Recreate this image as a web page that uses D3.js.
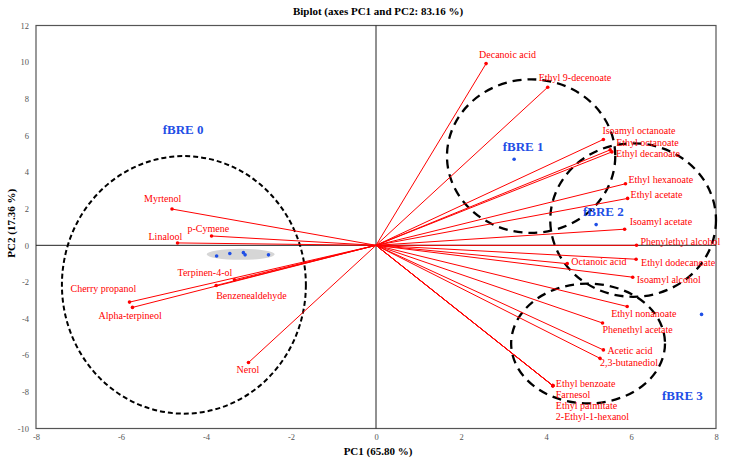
<!DOCTYPE html>
<html><head><meta charset="utf-8">
<script src="https://cdn.jsdelivr.net/npm/d3@7"></script>
<style>body{margin:0;background:#fff}svg{display:block}</style>
</head><body><div id="chart"></div>
<script>
// ---- data ----
const varNames = ["Decanoic acid","Ethyl 9-decenoate","Isoamyl octanoate","Ethyl octanoate","Ethyl decanoate",
  "Ethyl hexanoate","Ethyl acetate","Isoamyl acetate","Phenylethyl alcohol","Octanoic acid","Ethyl dodecanoate",
  "Isoamyl alcohol","Ethyl nonanoate","Phenethyl acetate","Acetic acid","2,3-butanediol","Ethyl benzoate",
  "Farnesol","Ethyl palmitate","2-Ethyl-1-hexanol",
  "Myrtenol","p-Cymene","Linalool","Terpinen-4-ol","Benzenealdehyde","Cherry propanol","Alpha-terpineol","Nerol"];
const varPC1 = [2.59,4.04,5.35,5.51,5.55,5.87,5.92,5.85,6.13,4.50,6.12,6.04,5.91,5.33,5.35,5.27,4.16,4.16,4.16,4.16,
  -4.80,-3.87,-4.67,-3.33,-3.76,-5.80,-5.73,-3.00];
const varPC2 = [9.92,8.63,5.78,5.21,5.10,3.36,2.56,0.88,0.00,-1.00,-0.76,-1.74,-3.34,-4.24,-5.71,-6.17,-7.66,-7.66,-7.66,-7.66,
  1.98,0.51,0.13,-1.88,-2.19,-3.10,-3.39,-6.40];

const obsPC1 = [-3.75,-3.44,-3.12,-3.08,-2.53,3.25,5.18,7.66];
const obsPC2 = [-0.58,-0.45,-0.40,-0.52,-0.52,4.70,1.13,-3.77];

const groupNames = ["fBRE 0","fBRE 1","fBRE 2","fBRE 3"];
const groupLabelPC1 = [-4.54,3.46,5.35,7.21];
const groupLabelPC2 = [6.23,5.32,1.75,-8.26];
const groupCenterPC1 = [-4.52,3.65,6.05,4.99];
const groupCenterPC2 = [-2.16,4.87,1.38,-5.36];
const groupRadiusPC1 = [2.87,1.98,1.95,1.81];
const groupRadiusPC2 = [7.03,4.19,4.19,3.27];

const xTicks = [-8,-6,-4,-2,0,2,4,6,8];
const yTicks = [-10,-8,-6,-4,-2,0,2,4,6,8,10,12];

// label offsets (layout, px): dx = left edge offset, dy = vertical centre offset
const labelOffsets = {
  "Decanoic acid":[-7,-8],"Ethyl 9-decenoate":[-9,-9],"Isoamyl octanoate":[-1,-8],"Ethyl octanoate":[6,-6],
  "Ethyl decanoate":[4,3],"Ethyl hexanoate":[3,-3],"Ethyl acetate":[3,-3],"Isoamyl acetate":[5,-6],
  "Phenylethyl alcohol":[4,-3],"Octanoic acid":[4,-1],"Ethyl dodecanoate":[5,4],"Isoamyl alcohol":[4,4],
  "Ethyl nonanoate":[-16,8],"Phenethyl acetate":[0,8],"Acetic acid":[4,2],"2,3-butanediol":[0,5],
  "Ethyl benzoate":[3,-1],"Farnesol":[3,10],"Ethyl palmitate":[3,21],"2-Ethyl-1-hexanol":[3,32],
  "Myrtenol":[-28,-9],"p-Cymene":[-24,-6],"Linalool":[-29,-5],"Terpinen-4-ol":[-57,-6],
  "Benzenealdehyde":[0,11],"Cherry propanol":[-59,-12],"Alpha-terpineol":[-34,9],"Nerol":[-12,8]
};

// ---- chart ----
const W = 730, H = 461;
const m = {left:36, right:14, top:25.5, bottom:32.5};
const x = d3.scaleLinear().domain([-8,8]).range([m.left, W-m.right]);
const y = d3.scaleLinear().domain([-10,12]).range([H-m.bottom, m.top]);
const serif = "'Liberation Serif','Times New Roman',serif";
const red = "#ff0000", blue = "#1f4fe6";

const svg = d3.select("#chart").append("svg").attr("width",W).attr("height",H)
  .style("font-family", serif);

// frame
svg.append("rect").attr("x",x(-8)).attr("y",y(12)).attr("width",x(8)-x(-8)).attr("height",y(-10)-y(12))
  .attr("fill","none").attr("stroke","#555").attr("stroke-width",1.2);

// axes (labels only, no tick marks)
const xAxis = svg.append("g").attr("transform",`translate(0,${y(-10)})`)
  .call(d3.axisBottom(x).tickValues(xTicks).tickSize(0).tickPadding(5).tickFormat(d=>String(d)));
const yAxis = svg.append("g").attr("transform",`translate(${x(-8)},0)`)
  .call(d3.axisLeft(y).tickValues(yTicks).tickSize(0).tickPadding(7).tickFormat(d=>String(d)));
[xAxis,yAxis].forEach(g=>{
  g.select(".domain").remove();
  g.selectAll("line").remove();
  g.selectAll("text").attr("font-family",serif).attr("font-size",8.5).attr("fill","#555");
});

// zero lines
svg.append("line").attr("x1",x(-8)).attr("x2",x(8)).attr("y1",y(0)).attr("y2",y(0)).attr("stroke","#222").attr("stroke-width",1);
svg.append("line").attr("x1",x(0)).attr("x2",x(0)).attr("y1",y(-10)).attr("y2",y(12)).attr("stroke","#222").attr("stroke-width",1);

// title and axis labels
svg.append("text").attr("x",x(0)+2).attr("y",15).attr("text-anchor","middle").attr("font-weight","bold")
  .attr("font-size",11).text("Biplot (axes PC1 and PC2: 83.16 %)");
svg.append("text").attr("x",x(0)+2).attr("y",455).attr("text-anchor","middle").attr("font-weight","bold")
  .attr("font-size",11).text("PC1 (65.80 %)");
svg.append("text").attr("transform",`translate(15,${y(0)-22}) rotate(-90)`).attr("text-anchor","middle")
  .attr("font-weight","bold").attr("font-size",11).text("PC2 (17.36 %)");

// gray ellipse around fBRE 0 observations
const gcx = d3.mean(obsPC1.slice(0,5)), gcy = d3.mean(obsPC2.slice(0,5));
svg.append("ellipse").attr("cx",x(gcx)).attr("cy",y(gcy))
  .attr("rx",x(gcx+0.8)-x(gcx)).attr("ry",y(gcy)-y(gcy+0.3)).attr("fill","#d6d6d6");

// group ellipses
groupNames.forEach((g,i)=>{
  svg.append("ellipse").attr("cx",x(groupCenterPC1[i])).attr("cy",y(groupCenterPC2[i]))
    .attr("rx",x(groupCenterPC1[i]+groupRadiusPC1[i])-x(groupCenterPC1[i]))
    .attr("ry",y(groupCenterPC2[i])-y(groupCenterPC2[i]+groupRadiusPC2[i]))
    .attr("fill","none").attr("stroke","#000")
    .attr("stroke-width", i===0?2:2.3)
    .attr("stroke-dasharray", i===0?"5,3":"9,6");
});

// variable vectors
const vars = varNames.map((n,i)=>({name:n,px:varPC1[i],py:varPC2[i]}));
svg.append("g").selectAll("line").data(vars).join("line")
  .attr("x1",x(0)).attr("y1",y(0)).attr("x2",d=>x(d.px)).attr("y2",d=>y(d.py))
  .attr("stroke",red).attr("stroke-width",1);
svg.append("g").selectAll("circle").data(vars).join("circle")
  .attr("cx",d=>x(d.px)).attr("cy",d=>y(d.py)).attr("r",1.8).attr("fill",red);
svg.append("g").selectAll("text").data(vars).join("text")
  .attr("x",d=>x(d.px)+labelOffsets[d.name][0]).attr("y",d=>y(d.py)+labelOffsets[d.name][1])
  .attr("dominant-baseline","middle").attr("font-size",10).attr("fill",red).text(d=>d.name);

// observations
svg.append("g").selectAll("circle").data(obsPC1.map((v,i)=>[v,obsPC2[i]])).join("circle")
  .attr("cx",d=>x(d[0])).attr("cy",d=>y(d[1])).attr("r",1.8).attr("fill",blue);

// group labels
svg.append("g").selectAll("text").data(groupNames).join("text")
  .attr("x",(d,i)=>x(groupLabelPC1[i])).attr("y",(d,i)=>y(groupLabelPC2[i]))
  .attr("text-anchor","middle").attr("dominant-baseline","middle")
  .attr("font-size",13).attr("font-weight","bold").attr("fill",blue).text(d=>d);
</script></body></html>
